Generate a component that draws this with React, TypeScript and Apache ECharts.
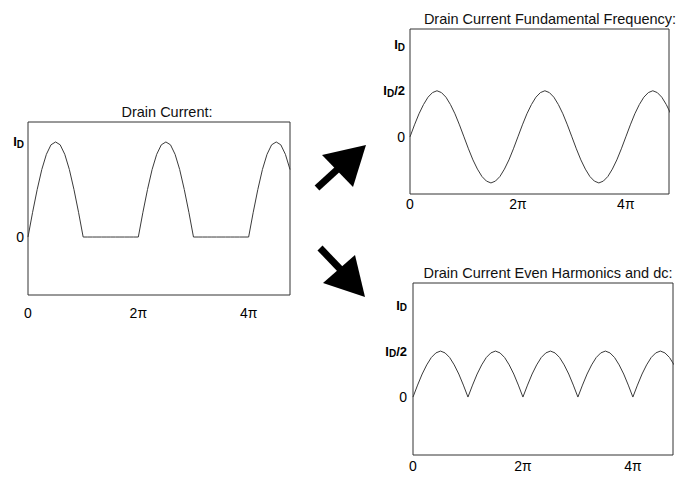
import React, { useEffect, useRef } from "react";
import * as echarts from "echarts";

// Sample spacing of every series, in units of π (15° steps)
const sampleStepPi = 1 / 12;

// x tick values (units of π) and their labels
const xTickValues = [0, 2, 4];
const xTickLabels = ["0", "2π", "4π"];

// y tick values (units of I_D)
const leftYTicks = [0, 1];
const rightYTicks = [0, 0.5, 1];

// Half-wave rectified drain current (units of I_D)
const drainCurrent = [
  0, 0.26, 0.5, 0.71, 0.87, 0.97, 1, 0.97, 0.87, 0.71, 0.5, 0.26, 0,
  0, 0, 0, 0, 0, 0, 0, 0, 0, 0, 0,
  0, 0.26, 0.5, 0.71, 0.87, 0.97, 1, 0.97, 0.87, 0.71, 0.5, 0.26, 0,
  0, 0, 0, 0, 0, 0, 0, 0, 0, 0, 0,
  0, 0.26, 0.5, 0.71, 0.87, 0.97, 1, 0.97, 0.87, 0.71,
];

// Fundamental frequency component (units of I_D)
const fundamental = [
  0, 0.13, 0.25, 0.35, 0.43, 0.48, 0.5, 0.48, 0.43, 0.35, 0.25, 0.13,
  0, -0.13, -0.25, -0.35, -0.43, -0.48, -0.5, -0.48, -0.43, -0.35, -0.25, -0.13,
  0, 0.13, 0.25, 0.35, 0.43, 0.48, 0.5, 0.48, 0.43, 0.35, 0.25, 0.13,
  0, -0.13, -0.25, -0.35, -0.43, -0.48, -0.5, -0.48, -0.43, -0.35, -0.25, -0.13,
  0, 0.13, 0.25, 0.35, 0.43, 0.48, 0.5, 0.48, 0.43, 0.35, 0.25,
];

// Even harmonics and dc component (units of I_D)
const evenHarmonics = [
  0, 0.13, 0.25, 0.35, 0.43, 0.48, 0.5, 0.48, 0.43, 0.35, 0.25, 0.13,
  0, 0.13, 0.25, 0.35, 0.43, 0.48, 0.5, 0.48, 0.43, 0.35, 0.25, 0.13,
  0, 0.13, 0.25, 0.35, 0.43, 0.48, 0.5, 0.48, 0.43, 0.35, 0.25, 0.13,
  0, 0.13, 0.25, 0.35, 0.43, 0.48, 0.5, 0.48, 0.43, 0.35, 0.25, 0.13,
  0, 0.13, 0.25, 0.35, 0.43, 0.48, 0.5, 0.48, 0.43, 0.35,
];

const FONT = "'Liberation Sans', Arial, Helvetica, sans-serif";

const toPoints = (arr: number[]) => arr.map((v, i) => [i * sampleStepPi, v]);

const xLabel = (v: number) => {
  const idx = xTickValues.findIndex((t) => Math.abs(t - v) < 1e-6);
  return idx >= 0 ? xTickLabels[idx] : "";
};

const yLabel = (v: number) => {
  if (Math.abs(v) < 1e-6) return "{n|0}";
  if (Math.abs(v - 1) < 1e-6) return "{b|I}{s|D}";
  if (Math.abs(v - 0.5) < 1e-6) return "{b|I}{s|D}{b|/2}";
  return "";
};

const yRich = {
  n: { fontSize: 14, color: "#000", fontFamily: FONT },
  b: { fontSize: 13, fontWeight: "bold" as const, color: "#000", fontFamily: FONT },
  s: { fontSize: 10, fontWeight: "bold" as const, color: "#000", fontFamily: FONT, padding: [5, 0, 0, 0] },
};

function makeX(gridIndex: number, max: number, margin: number) {
  return {
    type: "value" as const,
    gridIndex,
    min: 0,
    max,
    interval: 2,
    axisLine: { show: false },
    axisTick: { show: false },
    splitLine: { show: false },
    axisLabel: {
      formatter: xLabel,
      showMaxLabel: false,
      margin,
      fontSize: 14,
      color: "#000",
      fontFamily: FONT,
    },
  };
}

function makeY(gridIndex: number, min: number, max: number, ticks: number[], margin: number) {
  return {
    type: "value" as const,
    gridIndex,
    min,
    max,
    axisLine: { show: false },
    axisTick: { show: false },
    splitLine: { show: false },
    axisLabel: {
      customValues: ticks,
      formatter: yLabel,
      margin,
      rich: yRich,
    },
  };
}

export default function App() {
  const ref = useRef<HTMLDivElement>(null);
  useEffect(() => {
    if (!ref.current) return;
    const chart = echarts.init(ref.current, null, { renderer: "svg" });
    const lineStyle = { color: "#3a3a3a", width: 1 };
    const gridBase = { show: true, borderColor: "#333", borderWidth: 1, backgroundColor: "transparent" };
    const titleStyle = { fontSize: 14.5, fontWeight: "normal", color: "#111", fontFamily: FONT };
    chart.setOption({
      animation: false,
      backgroundColor: "#fff",
      title: [
        { text: "Drain Current:", left: 162, top: 99, textAlign: "center", textStyle: titleStyle },
        { text: "Drain Current Fundamental Frequency:", left: 545, top: 6, textAlign: "center", textStyle: titleStyle },
        { text: "Drain Current Even Harmonics and dc:", left: 543, top: 260, textAlign: "center", textStyle: titleStyle },
      ],
      grid: [
        { ...gridBase, left: 28, top: 122, width: 262, height: 173 },
        { ...gridBase, left: 410, top: 29, width: 259, height: 165 },
        { ...gridBase, left: 413, top: 283, width: 260, height: 172 },
      ],
      xAxis: [makeX(0, 4.75, 11), makeX(1, 4.8, 3), makeX(2, 4.73, 4)],
      yAxis: [
        makeY(0, -0.61, 1.21, leftYTicks, 4),
        makeY(1, -0.62, 1.17, rightYTicks, 5),
        makeY(2, -0.63, 1.24, rightYTicks, 6),
      ],
      series: [
        { type: "line", xAxisIndex: 0, yAxisIndex: 0, data: toPoints(drainCurrent), showSymbol: false, lineStyle, clip: true },
        { type: "line", xAxisIndex: 1, yAxisIndex: 1, data: toPoints(fundamental), showSymbol: false, lineStyle, clip: true },
        { type: "line", xAxisIndex: 2, yAxisIndex: 2, data: toPoints(evenHarmonics), showSymbol: false, lineStyle, clip: true },
      ],
      graphic: [
        { type: "line", shape: { x1: 317, y1: 188, x2: 340, y2: 167 }, style: { stroke: "#000", lineWidth: 7 } },
        { type: "polygon", shape: { points: [[322, 155], [366, 145], [353, 187]] }, style: { fill: "#000" } },
        { type: "line", shape: { x1: 320, y1: 248, x2: 342, y2: 271 }, style: { stroke: "#000", lineWidth: 7 } },
        { type: "polygon", shape: { points: [[355, 255], [365, 297], [323, 283]] }, style: { fill: "#000" } },
      ],
    });
    return () => chart.dispose();
  }, []);
  return <div ref={ref} style={{ position: "absolute", left: 0, top: 0, width: 682, height: 477 }} />;
}
